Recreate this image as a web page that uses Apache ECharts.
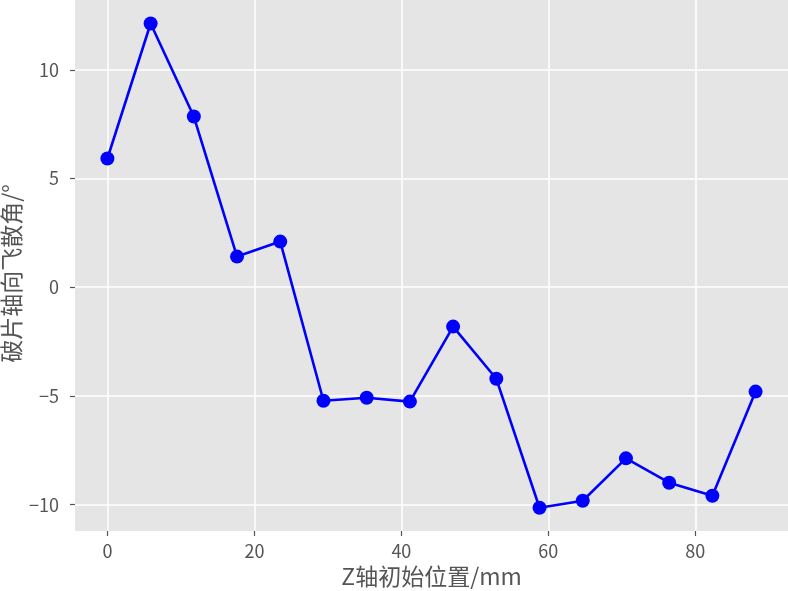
<!DOCTYPE html>
<html lang="zh">
<head>
    <meta charset="utf-8"/>
    <title>破片轴向飞散角</title>
    <script src="https://cdn.jsdelivr.net/npm/echarts@6/dist/echarts.min.js"></script>
</head>
<body style="margin:0;">
<div id="main" style="width:788px;height:591px;"></div>
<script type="text/javascript">
    // Z轴初始位置 (mm)
    var zPos = [0, 5.88, 11.76, 17.64, 23.52, 29.4, 35.28, 41.16, 47.04, 52.92, 58.8, 64.68, 70.56, 76.44, 82.32, 88.2];
    // 破片轴向飞散角 (°)
    var angle = [5.92, 12.13, 7.85, 1.41, 2.10, -5.22, -5.08, -5.26, -1.81, -4.21, -10.14, -9.82, -7.87, -8.99, -9.59, -4.80];
    var xTicks = [0, 20, 40, 60, 80];
    var yTicks = [-10, -5, 0, 5, 10];

    var points = zPos.map(function (x, i) {
        return [x, angle[i]];
    });

    var tickFont = {color: '#555555', fontSize: 18, fontFamily: 'Noto Sans CJK SC'};
    var nameFont = {color: '#555555', fontSize: 23, fontFamily: 'Noto Sans CJK SC'};

    var chart = echarts.init(document.getElementById('main'));
    chart.setOption({
        animation: false,
        grid: {
            left: 75, right: 0, top: 0, bottom: 60,
            outerBoundsMode: 'none',
            containLabel: false,
            show: true, backgroundColor: '#e5e5e5', borderWidth: 0
        },
        xAxis: {
            type: 'value',
            min: -4.41, max: 92.61,
            name: 'Z轴初始位置/mm',
            nameLocation: 'middle',
            nameGap: 34,
            nameMoveOverlap: false,
            nameTextStyle: nameFont,
            axisLine: {show: false, onZero: false},
            axisTick: {show: true, length: 5, lineStyle: {color: '#555555', width: 1.2}, customValues: xTicks},
            axisLabel: Object.assign({customValues: xTicks, margin: 11}, tickFont),
            splitLine: {show: true, lineStyle: {color: '#ffffff', width: 1.5}, customValues: xTicks}
        },
        yAxis: {
            type: 'value',
            min: -11.21, max: 13.21,
            name: '破片轴向飞散角/°',
            nameLocation: 'middle',
            nameGap: 52,
            nameMoveOverlap: false,
            nameTextStyle: Object.assign({padding: [0, 16, 0, 0]}, nameFont),
            axisLine: {show: false, onZero: false},
            axisTick: {show: true, length: 5, lineStyle: {color: '#555555', width: 1.2}, customValues: yTicks},
            axisLabel: Object.assign({
                customValues: yTicks, margin: 16,
                formatter: function (v) { return String(v).replace('-', '\u2212'); }
            }, tickFont),
            splitLine: {show: true, lineStyle: {color: '#ffffff', width: 1.5}, customValues: yTicks}
        },
        series: [{
            type: 'line',
            data: points,
            symbol: 'circle',
            symbolSize: 14,
            lineStyle: {color: '#0000ff', width: 2.6},
            itemStyle: {color: '#0000ff'},
            z: 3
        }]
    });
</script>
</body>
</html>
